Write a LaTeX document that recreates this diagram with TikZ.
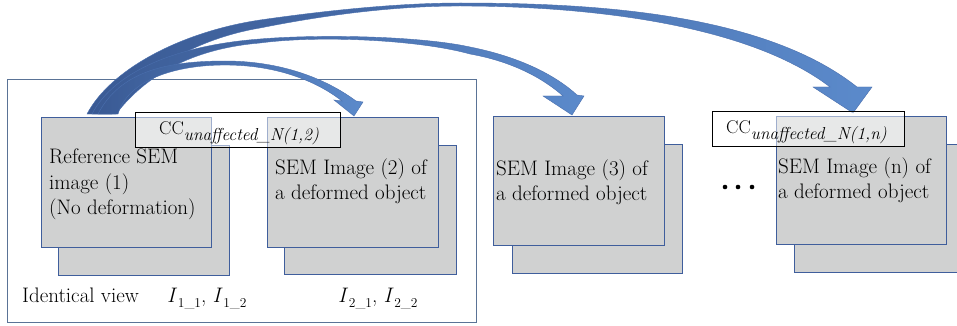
\documentclass[tikz,border=0pt]{standalone}
\usetikzlibrary{calc}
\definecolor{boxfill}{HTML}{D0D1D1}
\definecolor{boxedge}{HTML}{3F5E9C}
\definecolor{frameedge}{HTML}{5A7396}
\definecolor{arrowdark}{HTML}{3A5A94}
\definecolor{arrowlight}{HTML}{5B8ACB}
\definecolor{arrowedge}{HTML}{4A6FAE}
\tikzset{
  imgbox/.style={draw=boxedge, line width=1.3pt, fill=boxfill, inner sep=0pt,
    anchor=north west, minimum width=#1},
  imgbox/.default=170pt,
  framebox/.style={draw=frameedge, line width=1.1pt, inner sep=0pt, anchor=north west},
  cclabel/.style={draw=black, line width=1.1pt, fill=white, fill opacity=0.5,
    inner sep=0pt, anchor=north west, minimum height=35pt},
  txt/.style={inner sep=0pt, anchor=base west, font=\fontsize{21}{24}\selectfont},
  blockarrow/.style={left color=arrowdark, right color=arrowlight, draw=arrowedge,
    line width=0.4pt},
}
\newcommand{\ccsub}[1]{{\fontsize{18.5}{20}\selectfont CC}\raisebox{-6pt}{\fontsize{17.3}{18}\selectfont\itshape #1}}
\newcommand{\isub}[1]{\textit{I}\kern0.5pt\raisebox{-5pt}{\fontsize{13.5}{15}\selectfont #1}}
\begin{document}
\begin{tikzpicture}[x=1pt, y=-1pt]
\clip (0,0) rectangle (957,326);
\fill[white] (0,0) rectangle (957,326);

% outer frame around the identical-view pair
\node[framebox, minimum width=469pt, minimum height=243pt] (frame) at (7,79) {};

% stacked image cards (back sheet first, then front sheet)
\node[imgbox=171pt, minimum height=130pt] (b1) at (58,145) {};
\node[imgbox, minimum height=130pt] (f1) at (41,117) {};
\node[imgbox=172pt, minimum height=129pt] (b2) at (284,145) {};
\node[imgbox=171pt, minimum height=130pt] (f2) at (267,117) {};
\node[imgbox, minimum height=129pt] (b3) at (512,144) {};
\node[imgbox=171pt, minimum height=129pt] (f3) at (493,116) {};
\node[imgbox, minimum height=128pt] (bn) at (794,144) {};
\node[imgbox, minimum height=128pt] (fn) at (776,116) {};

% curved block arrows leaving the reference image
% to image (n)
\path[blockarrow]
  (87,114) .. controls (110,70) and (180,32) .. (260,20)
  .. controls (330,10) and (400,3) .. (460,3)
  .. controls (580,3) and (760,10) .. (857,87)
  -- (872,87) -- (853,113) -- (813,87) -- (830,87)
  .. controls (745,22) and (580,6) .. (460,6)
  .. controls (390,6) and (320,16) .. (260,28)
  .. controls (200,38) and (140,70) .. (112,114) -- cycle;
% to image (3)
\path[blockarrow]
  (92,114) .. controls (115,70) and (180,45) .. (260,39)
  .. controls (320,34) and (420,36) .. (470,47)
  .. controls (520,57) and (555,75) .. (577,95)
  -- (584,96) -- (572,115) -- (543,96) -- (563,96)
  .. controls (545,80) and (515,62) .. (470,54)
  .. controls (420,40) and (320,35) .. (260,43)
  .. controls (200,48) and (150,70) .. (116,114) -- cycle;
% to image (2)
\path[blockarrow]
  (98,114) .. controls (120,72) and (165,61) .. (225,61)
  .. controls (280,61) and (325,78) .. (356,101)
  -- (363,102) -- (354,116) -- (334,100) -- (342,101)
  .. controls (315,80) and (275,65) .. (225,65)
  .. controls (175,65) and (128,80) .. (118,114) -- cycle;

% correlation labels
\node[cclabel, minimum width=205pt] (cc1) at (135,112) {};
\node[cclabel, minimum width=192pt] (ccn) at (712,111) {};
\node[txt] (cc1t) at (159,134) {\ccsub{unaffected\_N(1,2)}};
\node[txt] (ccnt) at (726,133) {\ccsub{unaffected\_N(1,n)}};

% card texts
\node[txt] (t1a) at (49,163) {Reference SEM};
\node[txt] (t1b) at (49,189) {image (1)};
\node[txt] (t1c) at (49,214) {(No deformation)};
\node[txt] (t2a) at (275,174) {SEM Image (2) of};
\node[txt] (t2b) at (275,199) {a deformed object};
\node[txt] (t3a) at (496,175) {SEM Image (3) of};
\node[txt] (t3b) at (496,200) {a deformed object};
\node[txt] (tna) at (778,173) {SEM Image (n) of};
\node[txt] (tnb) at (778,198) {a deformed object};

% ellipsis between the cards
\foreach \dx [count=\i] in {725,738,752}
  \fill (\dx,187) circle (2.3pt) coordinate (dot\i);

% bottom captions
\node[txt] (idv) at (22,302) {Identical view};
\node[txt] (i1) at (167,302) {\isub{1\_1}, \isub{1\_2}};
\node[txt] (i2) at (338,302) {\isub{2\_1}, \isub{2\_2}};
\end{tikzpicture}
\end{document}
